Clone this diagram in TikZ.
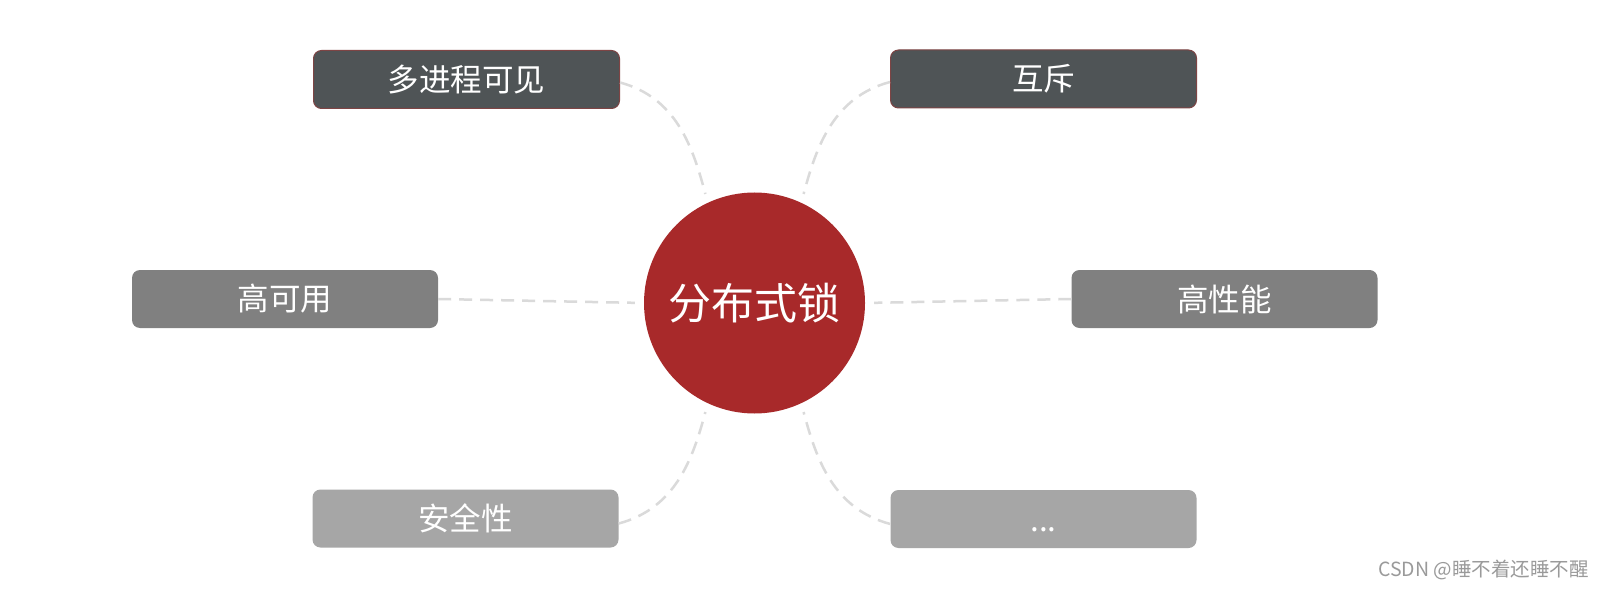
\documentclass[tikz,border=0pt]{standalone}
\usepackage{fontspec}
\setmainfont{Noto Sans CJK SC}
\definecolor{boxdark}{HTML}{4F5456}
\definecolor{boxborder}{HTML}{7E4444}
\definecolor{boxmid}{HTML}{808080}
\definecolor{boxlight}{HTML}{A6A6A6}
\definecolor{hubred}{HTML}{A8292A}
\definecolor{linkgray}{HTML}{DADADA}
\definecolor{markgray}{HTML}{9A9A9A}
\begin{document}
\begin{tikzpicture}[x=1pt,y=1pt]
\tikzset{
  box/.style={rounded corners=8pt, minimum width=306pt, minimum height=58pt,
    text=white, font=\fontsize{31.5}{31.5}\selectfont, inner sep=0pt},
  darkbox/.style={box, fill=boxdark, draw=boxborder, line width=1pt},
  midbox/.style={box, fill=boxmid},
  lightbox/.style={box, fill=boxlight},
  hub/.style={circle, fill=hubred, minimum size=221pt, inner sep=0pt,
    text=white, font=\fontsize{43}{43}\selectfont},
  link/.style={draw=linkgray, line width=2.5pt, dash pattern=on 13pt off 8pt,
    shorten >=9pt},
  watermark/.style={text=markgray, font=\fontsize{19.5}{19.5}\selectfont, inner sep=0pt}
}
\fill[white] (0,0) rectangle (1605,590);
\useasboundingbox (0,0) rectangle (1605,590);

\node[hub] (c) at (754.5,287) {分布式锁};

\node[darkbox] (p1) at (466.5,510.5) {多进程可见};
\node[darkbox] (p2) at (1043.5,511) {互斥};
\node[midbox] (p3) at (285,291) {高可用};
\node[midbox] (p4) at (1224.5,291) {高性能};
\node[lightbox] (p5) at (465.5,71.5) {安全性};
\node[lightbox] (p6) at (1043.5,71) {\vphantom{高}...};

\draw[link] ([yshift=-3pt]p1.east) to[out=-15, in=105] (c.115);
\draw[link] ([yshift=-3pt]p2.west) to[out=195, in=75] (c.65);
\draw[link] (p3.east) -- (c.west);
\draw[link] (p4.west) -- (c.east);
\draw[link] ([yshift=-5pt]p5.east) to[out=15, in=-105] (c.-115);
\draw[link] ([yshift=-5pt]p6.west) to[out=165, in=-75] (c.-65);

\node[watermark, anchor=east] (wm) at (1589,20) {CSDN @睡不着还睡不醒};
\end{tikzpicture}
\end{document}
